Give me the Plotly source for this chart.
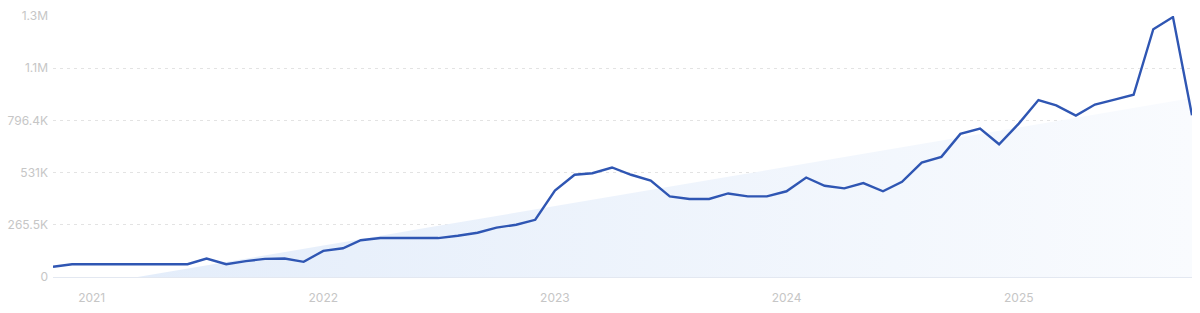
import numpy as np
import pandas as pd
import plotly.graph_objects as go

# Monthly data, Nov 2020 - Oct 2025
months = pd.date_range("2020-11-01", periods=60, freq="MS")
values = [
    52000, 65000, 65000, 65000, 65000, 65000, 65000, 65000, 94000, 65000,
    81000, 92000, 94000, 77000, 133000, 146000, 187000, 198000, 198000, 198000,
    198000, 210000, 225000, 251000, 266000, 291000, 439000, 520000, 528000, 557000,
    520000, 490000, 410000, 397000, 397000, 425000, 410000, 410000, 436000, 506000,
    464000, 451000, 478000, 436000, 484000, 582000, 611000, 728000, 755000, 675000,
    780000, 900000, 873000, 821000, 877000, 902000, 927000, 1260000, 1322000, 823000,
]

y_tickvals = [0, 265500, 531000, 796500, 1062000, 1327500]
y_ticktext = ["0", "265.5K", "531K", "796.4K", "1.1M", "1.3M"]
x_tickvals = ["2021-01-01", "2022-01-01", "2023-01-01", "2024-01-01", "2025-01-01"]
x_ticktext = ["2021", "2022", "2023", "2024", "2025"]

# linear trend
idx = np.arange(len(values))
slope, intercept = np.polyfit(idx, values, 1)
trend = slope * idx + intercept

fig = go.Figure()
fig.add_trace(go.Scatter(
    x=months, y=trend, mode="lines", line=dict(width=0),
    fill="tozeroy",
    fillgradient=dict(type="horizontal",
                      colorscale=[[0, "#e2ecfa"], [1, "#f9fbfe"]]),
    hoverinfo="skip", showlegend=False,
))
fig.add_trace(go.Scatter(
    x=months, y=values, mode="lines",
    line=dict(color="#2f56b3", width=2.4),
    showlegend=False,
))

fig.update_layout(
    width=1200, height=313,
    margin=dict(l=53, r=8, t=14, b=36),
    paper_bgcolor="white", plot_bgcolor="white",
    font=dict(family="Inter, Open Sans, sans-serif", size=12, color="#c6c6c6"),
    xaxis=dict(
        range=[months[0], months[-1]],
        tickvals=x_tickvals, ticktext=x_ticktext,
        showgrid=False, zeroline=False,
        showline=True, linecolor="#e3e8f1", linewidth=1,
        ticks="", ticklabelstandoff=10,
    ),
    yaxis=dict(
        range=[0, 1327500],
        tickvals=y_tickvals, ticktext=y_ticktext,
        showgrid=True, gridcolor="#e3e3e3", griddash="3px,4px", gridwidth=1,
        zeroline=False, showline=False, ticks="", ticklabelstandoff=4,
    ),
)

fig.write_html("out.html")
